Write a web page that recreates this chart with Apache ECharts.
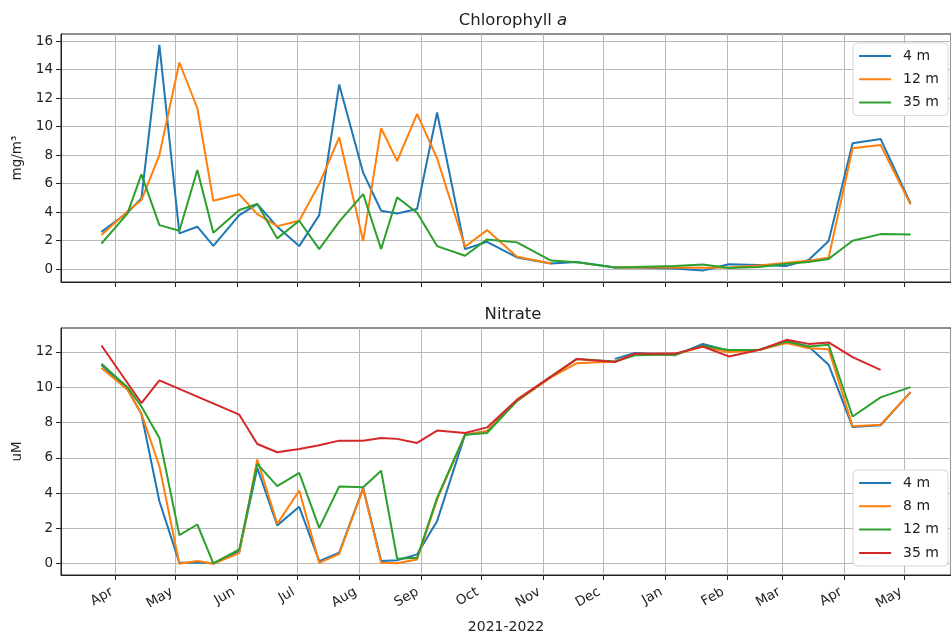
<!DOCTYPE html>
<html><head><meta charset="utf-8">
<script src="https://cdn.jsdelivr.net/npm/echarts@6/dist/echarts.min.js"></script>
<style>html,body{margin:0;padding:0;background:#fff}#c{width:951px;height:637px}</style>
</head><body><div id="c"></div>
<script>
const dates = ['2021-03-25','2021-04-07','2021-04-14','2021-04-23','2021-05-03','2021-05-12','2021-05-20','2021-06-02','2021-06-11','2021-06-21','2021-07-02','2021-07-12','2021-07-22','2021-08-03','2021-08-12','2021-08-20','2021-08-30','2021-09-09','2021-09-23','2021-10-04','2021-10-19','2021-11-05','2021-11-18','2021-12-07','2021-12-17','2022-01-06','2022-01-20','2022-02-02','2022-02-17','2022-03-03','2022-03-14','2022-03-24','2022-04-05','2022-04-19','2022-05-04'];
const chl4  = [2.62,3.96,4.97,15.74,2.51,2.98,1.64,3.79,4.57,2.97,1.62,3.79,12.95,6.77,4.10,3.91,4.22,10.99,1.41,1.92,0.82,0.40,0.51,0.12,0.12,0.05,-0.1,0.35,0.3,0.23,0.65,1.97,8.83,9.14,4.61];
const chl12 = [2.39,4.05,4.85,8.01,14.5,11.29,4.80,5.25,3.86,3.02,3.40,5.97,9.25,1.97,9.89,7.59,10.89,7.78,1.57,2.74,0.87,0.40,null,0.12,0.12,0.12,0.10,0.12,0.25,0.45,0.6,0.8,8.48,8.71,4.54];
const chl35 = [1.80,3.9,6.65,3.09,2.69,6.96,2.55,4.15,4.57,2.16,3.40,1.41,3.33,5.27,1.41,5.04,3.96,1.62,0.94,2.09,1.88,0.6,0.48,0.12,0.15,0.22,0.33,0.08,0.15,0.38,0.5,0.72,1.99,2.46,2.43];
const no4  = [11.25,9.9,8.48,3.54,0.05,0.05,0.02,0.72,5.42,2.17,3.22,0.15,0.62,4.29,0.15,0.2,0.53,2.41,7.31,7.5,9.25,10.6,null,11.6,11.93,11.8,12.45,12.07,12.1,12.6,12.3,11.27,7.74,7.84,9.72];
const no8  = [11.08,9.85,8.5,5.52,0.0,0.15,0.0,0.6,5.9,2.26,4.14,0.05,0.56,4.25,0.05,0.02,0.24,3.63,7.31,7.5,9.2,10.55,11.36,11.45,11.85,11.85,12.3,11.98,12.1,12.5,12.2,12.15,7.78,7.87,9.72];
const no12 = [11.32,10.0,8.91,7.12,1.62,2.22,0.02,0.81,5.65,4.39,5.14,2.03,4.37,4.33,5.27,0.28,0.34,3.73,7.31,7.4,9.23,10.6,11.6,11.45,11.8,11.85,12.35,12.1,12.1,12.58,12.3,12.4,8.34,9.42,10.0];
const no35 = [12.36,null,9.1,10.38,null,null,null,8.44,6.78,6.31,6.5,6.71,6.97,6.97,7.12,7.07,6.84,7.54,7.4,7.72,9.29,10.6,11.6,11.42,11.89,11.9,12.3,11.74,12.1,12.68,12.45,12.53,11.7,10.98,null];
const monthTicks = ['2021-04-01','2021-05-01','2021-06-01','2021-07-01','2021-08-01','2021-09-01','2021-10-01','2021-11-01','2021-12-01','2022-01-01','2022-02-01','2022-03-01','2022-04-01','2022-05-01'];
const monthNames = ['Jan','Feb','Mar','Apr','May','Jun','Jul','Aug','Sep','Oct','Nov','Dec'];
const chlTicks = [0,2,4,6,8,10,12,14,16];
const no3Ticks = [0,2,4,6,8,10,12];
const chlNames = ['4 m','12 m','35 m'];
const no3Names = ['4 m','8 m','12 m','35 m'];

const ts = s => { const p = s.split('-').map(Number); return Date.UTC(p[0], p[1]-1, p[2]); };
const xMin = Date.UTC(2021,2,4,18);
const xMax = Date.UTC(2022,4,24,6);
const mt = monthTicks.map(ts);
const FONT = 'DejaVu Sans';
const C = ['#1f77b4','#ff7f0e','#2ca02c','#d62728'];
const pair = vals => dates.map((d,i) => [ts(d), vals[i]]);

function xAxisCfg(gi, showLabels) {
  return {
    type: 'value', gridIndex: gi, min: xMin, max: xMax,
    axisLine: {show: true, onZero: false, lineStyle: {color: '#222', width: 1}},
    axisTick: {show: true, customValues: mt, length: 5, lineStyle: {color: '#222'}},
    axisLabel: {show: showLabels, customValues: mt, rotate: 30, margin: 14, padding: [0, 4, 0, 0], fontFamily: FONT, fontSize: 13.5, color: '#222',
      formatter: v => monthNames[new Date(v).getUTCMonth()]},
    splitLine: {show: true, lineStyle: {color: '#b8b8b8', width: 1}},
    name: showLabels ? '2021-2022' : '', nameLocation: 'middle', nameGap: 45,
    nameTextStyle: {fontFamily: FONT, fontSize: 14, color: '#222'}
  };
}
function yAxisCfg(gi, min, max, ticks, name) {
  return {
    type: 'value', gridIndex: gi, min: min, max: max,
    axisLine: {show: true, onZero: false, lineStyle: {color: '#222', width: 1}},
    axisTick: {show: true, customValues: ticks, length: 5, lineStyle: {color: '#222'}},
    axisLabel: {customValues: ticks, margin: 8, fontFamily: FONT, fontSize: 13.5, color: '#222'},
    splitLine: {show: true, lineStyle: {color: '#b8b8b8', width: 1}},
    name: name, nameLocation: 'middle', nameGap: 35,
    nameTextStyle: {fontFamily: FONT, fontSize: 13.5, color: '#222'}
  };
}
function line(name, vals, color, xi, connect) {
  return {type: 'line', name: name, xAxisIndex: xi, yAxisIndex: xi, data: pair(vals),
    symbol: 'none', connectNulls: !!connect, lineStyle: {color: color, width: 2}, itemStyle: {color: color}};
}
function legendCfg(top, names) {
  return {
    right: 3, top: top, orient: 'vertical', icon: 'rect', itemWidth: 32, itemHeight: 2, itemGap: 7.3,
    padding: [5, 9, 5, 6], borderColor: '#d6d6d6', borderWidth: 1, borderRadius: 4, backgroundColor: '#fff',
    data: names, formatter: n => n.trim(),
    textStyle: {fontFamily: FONT, fontSize: 14, color: '#222', lineHeight: 16, padding: [0,0,0,7]}
  };
}
const chart = echarts.init(document.getElementById('c'), null, {renderer: 'canvas'});
chart.setOption({
  animation: false, backgroundColor: '#fff',
  title: [
    {text: '{n|Chlorophyll }{i|a}', left: 508, top: 7, textAlign: 'center',
      textStyle: {fontWeight: 'normal', rich: {n: {fontFamily: FONT, fontSize: 16.5, fontWeight: 'normal', color: '#222'}, i: {fontFamily: FONT, fontSize: 16.5, fontWeight: 'normal', fontStyle: 'italic', color: '#222'}}}},
    {text: 'Nitrate', left: 508, top: 301, textAlign: 'center',
      textStyle: {fontFamily: FONT, fontSize: 16.5, fontWeight: 'normal', color: '#222'}}
  ],
  grid: [
    {left: 61, right: -4, top: 34, height: 248, show: true, borderColor: '#222', borderWidth: 1, backgroundColor: 'transparent'},
    {left: 61, right: -4, top: 328, height: 247, show: true, borderColor: '#222', borderWidth: 1, backgroundColor: 'transparent'}
  ],
  xAxis: [xAxisCfg(0, false), xAxisCfg(1, true)],
  yAxis: [yAxisCfg(0, -0.9, 16.5, chlTicks, 'mg/m³'), yAxisCfg(1, -0.64, 13.35, no3Ticks, 'uM')],
  legend: [legendCfg(43, chlNames), legendCfg(470, no3Names.map(n => n + ' '))],
  series: [
    line(chlNames[0], chl4, C[0], 0),
    line(chlNames[1], chl12, C[1], 0),
    line(chlNames[2], chl35, C[2], 0),
    line(no3Names[0] + ' ', no4, C[0], 1),
    line(no3Names[1] + ' ', no8, C[1], 1),
    line(no3Names[2] + ' ', no12, C[2], 1),
    line(no3Names[3] + ' ', no35, C[3], 1, true)
  ]
});
</script></body></html>
